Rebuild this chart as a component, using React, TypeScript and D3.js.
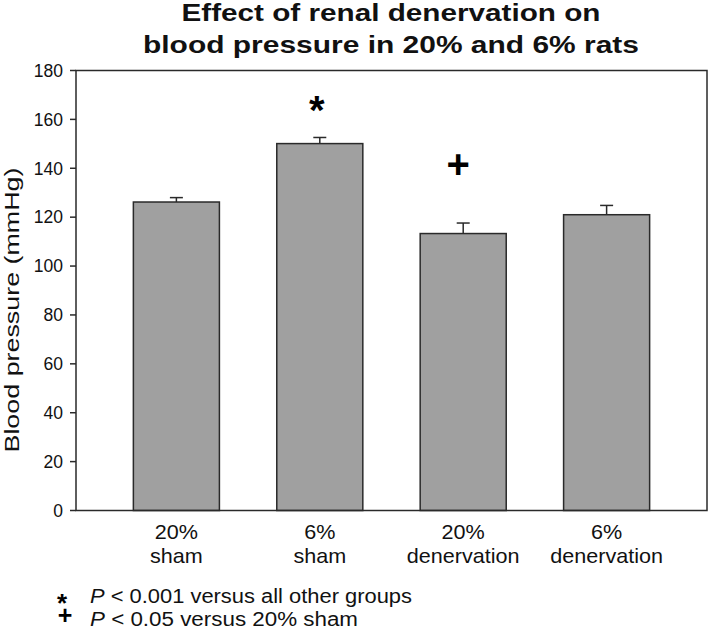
import React from "react";
import * as d3 from "d3";

const groupsLine1 = ["20%", "6%", "20%", "6%"];
const groupsLine2 = ["sham", "sham", "denervation", "denervation"];
const groupKeys = ["20% sham", "6% sham", "20% denervation", "6% denervation"];
const meanBP = [126.2, 150.1, 113.3, 121.0];
const semBP = [1.8, 2.5, 4.3, 3.8];
const yTicks = [0, 20, 40, 60, 80, 100, 120, 140, 160, 180];
const markers = [
  { group: "6% sham", symbol: "*", value: 158 },
  { group: "20% denervation", symbol: "+", value: 136 },
];
const titleLines = ["Effect of renal denervation on", "blood pressure in 20% and 6% rats"];
const footnotes = [
  { symbol: "*", text: " < 0.001 versus all other groups" },
  { symbol: "+", text: " < 0.05 versus 20% sham" },
];

const W = 709;
const H = 630;
const left = 76;
const right = 707;
const top = 70.5;
const bottom = 510.5;
const FONT = "'Liberation Sans', Arial, Helvetica, sans-serif";
const INK = "#2a2a2a";

export default function App() {
  const x = d3.scaleBand<string>().domain(groupKeys).range([left, right]).paddingInner(0.4).paddingOuter(0.4);
  const y = d3.scaleLinear().domain([0, 180]).range([bottom, top]);
  const bw = x.bandwidth();

  return (
    <svg width={W} height={H} style={{ position: "absolute", left: 0, top: 0, background: "#fff" }} fontFamily={FONT}>
      {/* title */}
      <text x={391} y={21} textAnchor="middle" fontSize={23} fontWeight="bold" fill="#111" textLength={419} lengthAdjust="spacingAndGlyphs">
        {titleLines[0]}
      </text>
      <text x={391} y={53} textAnchor="middle" fontSize={23} fontWeight="bold" fill="#111" textLength={496} lengthAdjust="spacingAndGlyphs">
        {titleLines[1]}
      </text>

      {/* bars */}
      {groupKeys.map((g, i) => {
        const x0 = x(g)!;
        const cx = x0 + bw / 2;
        return (
          <g key={g}>
            <line x1={cx} x2={cx} y1={y(meanBP[i])} y2={y(meanBP[i] + semBP[i])} stroke={INK} strokeWidth={1.5} />
            <line x1={cx - 6.5} x2={cx + 6.5} y1={y(meanBP[i] + semBP[i])} y2={y(meanBP[i] + semBP[i])} stroke={INK} strokeWidth={1.5} />
            <rect x={x0} y={y(meanBP[i])} width={bw} height={y(0) - y(meanBP[i])} fill="#a0a0a0" stroke={INK} strokeWidth={1.5} />
          </g>
        );
      })}

      {/* frame */}
      <rect x={left} y={top} width={right - left} height={bottom - top} fill="none" stroke={INK} strokeWidth={1.5} />

      {/* y axis ticks */}
      {yTicks.map((t) => (
        <g key={t}>
          <line x1={left - 6} x2={left} y1={y(t)} y2={y(t)} stroke={INK} strokeWidth={1.5} />
          <text x={left - 13} y={y(t)} dy="0.36em" textAnchor="end" fontSize={17.5} fill="#111">
            {t}
          </text>
        </g>
      ))}

      {/* y label */}
      <text transform={`translate(19, 310) rotate(-90)`} textAnchor="middle" fontSize={20} fill="#111" textLength={285} lengthAdjust="spacingAndGlyphs">
        Blood pressure (mmHg)
      </text>

      {/* x labels */}
      {groupKeys.map((g, i) => {
        const cx = x(g)! + bw / 2;
        return (
          <g key={g} transform={`translate(${cx},0) scale(1.08,1)`}>
            <text x={0} y={539} textAnchor="middle" fontSize={20} fill="#111">{groupsLine1[i]}</text>
            <text x={0} y={563} textAnchor="middle" fontSize={20} fill="#111">{groupsLine2[i]}</text>
          </g>
        );
      })}

      {/* significance markers */}
      {markers.map((m) => {
        const cx = x(m.group)! + bw / 2;
        return (
          <text key={m.group} x={m.symbol === "+" ? cx - 5 : cx - 3} y={y(m.value)} textAnchor="middle" fontSize={40} fontWeight="bold" fill="#000">
            {m.symbol}
          </text>
        );
      })}

      {/* footnotes */}
      <text x={62} y={612} textAnchor="middle" fontSize={26} fontWeight="bold" fill="#000">{footnotes[0].symbol}</text>
      <text x={90} y={603} fontSize={19.5} fill="#111" textLength={322} lengthAdjust="spacingAndGlyphs">
        <tspan fontStyle="italic">P</tspan>{footnotes[0].text}
      </text>
      <text x={65} y={624} textAnchor="middle" fontSize={25} fontWeight="bold" fill="#000">{footnotes[1].symbol}</text>
      <text x={90} y={626} fontSize={19.5} fill="#111" textLength={268} lengthAdjust="spacingAndGlyphs">
        <tspan fontStyle="italic">P</tspan>{footnotes[1].text}
      </text>
    </svg>
  );
}
